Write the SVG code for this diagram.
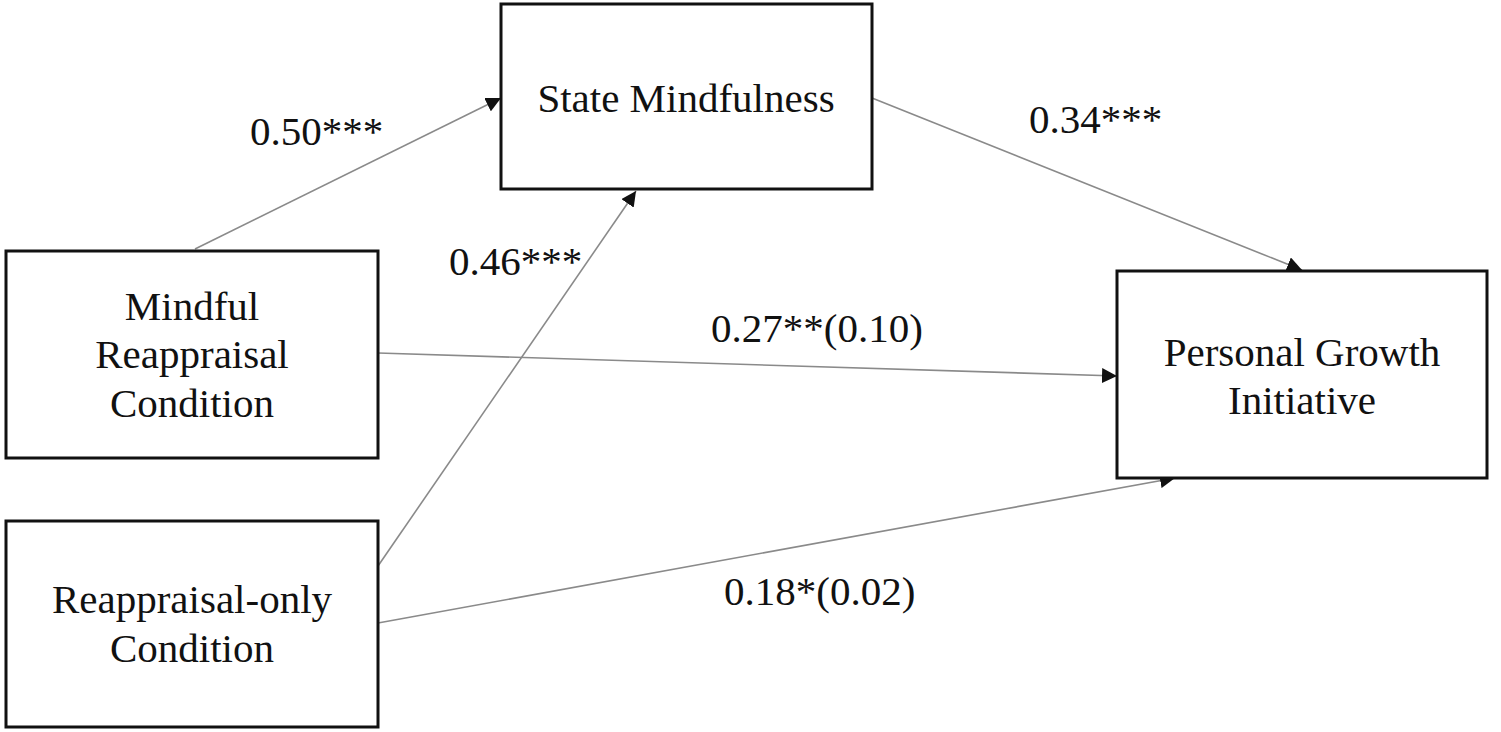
<svg xmlns="http://www.w3.org/2000/svg" width="1501" height="732" viewBox="0 0 1501 732">
<style>
.box{fill:#fff;stroke:#111;stroke-width:3}
.t{font-family:"Liberation Serif","Times New Roman",serif;font-size:41px;fill:#111;text-anchor:middle}
.l{font-family:"Liberation Serif","Times New Roman",serif;font-size:41px;fill:#111}
.c{stroke:#8a8a8a;stroke-width:1.6;fill:none;marker-end:url(#ah)}
</style>
<defs>
<marker id="ah" viewBox="0 0 10 10" refX="10" refY="5" markerWidth="15" markerHeight="15" markerUnits="userSpaceOnUse" orient="auto">
<path d="M0,0 L10,5 L0,10 z" fill="#111"/>
</marker>
</defs>
<rect width="1501" height="732" fill="#fff"/>
<g id="connectors">
<line class="c" x1="195" y1="249" x2="501" y2="98"/>
<line class="c" x1="378" y1="566" x2="636" y2="191"/>
<line class="c" x1="872" y1="98" x2="1302" y2="270"/>
<line class="c" x1="378" y1="353" x2="1117" y2="376"/>
<line class="c" x1="378" y1="623" x2="1175" y2="478"/>
<text class="l" x="250" y="145">0.50***</text>
<text class="l" x="449" y="275">0.46***</text>
<text class="l" x="1029" y="133">0.34***</text>
<text class="l" x="711" y="342">0.27**(0.10)</text>
<text class="l" x="724" y="605">0.18*(0.02)</text>
</g>
<g id="state-mindfulness">
<rect class="box" x="501" y="4" width="371" height="185"/>
<text class="t" x="686" y="112">State Mindfulness</text>
</g>
<g id="mindful-reappraisal">
<rect class="box" x="6" y="251" width="372" height="207"/>
<text class="t" x="192" y="320">Mindful</text>
<text class="t" x="192" y="368">Reappraisal</text>
<text class="t" x="192" y="417">Condition</text>
</g>
<g id="reappraisal-only">
<rect class="box" x="6" y="521" width="372" height="206"/>
<text class="t" x="192" y="613">Reappraisal-only</text>
<text class="t" x="192" y="662">Condition</text>
</g>
<g id="personal-growth">
<rect class="box" x="1117" y="271" width="370" height="207"/>
<text class="t" x="1302" y="366">Personal Growth</text>
<text class="t" x="1302" y="414">Initiative</text>
</g>
</svg>
